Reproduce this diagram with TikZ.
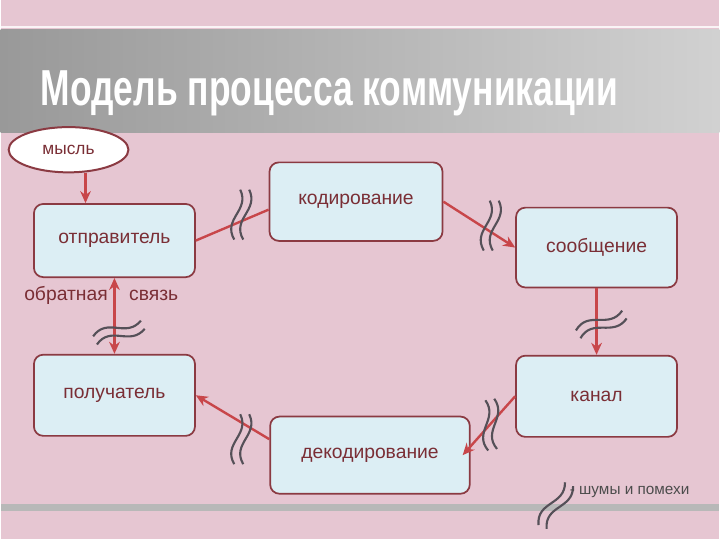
\documentclass[tikz,border=0pt]{standalone}
\usepackage{fontspec}
\setmainfont{Liberation Sans}
\usetikzlibrary{shapes.geometric,arrows.meta,calc}
\definecolor{bg}{HTML}{E6C6D2}
\definecolor{bfill}{HTML}{DCEEF4}
\definecolor{bdr}{HTML}{8B3A42}
\definecolor{txt}{HTML}{7A2E35}
\definecolor{arr}{HTML}{C8464A}
\definecolor{noise}{HTML}{555058}
\tikzset{
 box/.style={draw=bdr,line width=1.3pt,fill=bfill,rounded corners=7pt,text=txt,font=\fontsize{14.5}{17}\selectfont,inner sep=0pt},
 arrow/.style={draw=arr,line width=1.8pt,-{Stealth[length=9pt,width=8pt]}},
 lbl/.style={text=txt,font=\fontsize{14.5}{17}\selectfont},
 noisepic/.pic={\draw[noise,line width=1.6pt] (-4,25) .. controls (-16,4) and (12,-4) .. (2,-25);
   \draw[noise,line width=1.6pt] (5,25) .. controls (-7,4) and (21,-4) .. (11,-25);}
}
\begin{document}
\begin{tikzpicture}[x=0.75pt,y=-0.75pt]
\fill[bg] (0,0) rectangle (720,540);
\draw[white!80!bg,line width=1pt] (0,27) -- (720,27);
\shade[left color=black!40,right color=black!18] (0,30) rectangle (720,133);
\fill[black!28] (0,505) rectangle (720,512);
\node[anchor=base west,text=white,font=\bfseries\fontsize{38}{42}\selectfont,xscale=0.70,inner sep=0] (title) at (40,106) {Модель процесса коммуникации};
\node[ellipse,draw=bdr,line width=1.5pt,fill=white,text=txt,font=\fontsize{13}{15}\selectfont,minimum width=90pt,minimum height=34pt,inner sep=0] (thought) at (68,150) {мысль};
\node[box,minimum width=121pt,minimum height=55pt] (snd) at (114,241) {отправитель};
\node[box,minimum width=130pt,minimum height=59pt] (enc) at (356,202) {кодирование};
\node[box,minimum width=121pt,minimum height=60pt] (msg) at (597,248) {сообщение};
\node[box,minimum width=121pt,minimum height=61pt] (chn) at (597,397) {канал};
\node[box,minimum width=150pt,minimum height=58pt] (dec) at (370,456) {декодирование};
\node[box,minimum width=121pt,minimum height=61pt] (rcv) at (114,396) {получатель};
\node[lbl,anchor=base east] (fb1) at (112,301) {обратная};
\node[lbl,anchor=base west] (fb2) at (124,301) {связь};
\draw[arrow] (thought.south) ++(17,0) coordinate (t1) -- (snd.north -| t1);
\draw[arr,line width=1.8pt] (snd.east) -- ($(enc.west)+(0,8)$) coordinate (e1);
\draw[arrow] (enc.east) -- (msg.west);
\draw[arrow] (msg.south) -- (chn.north);
\draw[arrow] (chn.west) -- ($(dec.east)+(-8,0)$) coordinate (d1);
\draw[arrow] ($(dec.west)+(0,-16)$) coordinate (d2) -- (rcv.east);
\draw[arr,line width=1.8pt,{Stealth[length=9pt,width=8pt]}-{Stealth[length=9pt,width=8pt]}] (snd.south) -- (rcv.north);
\pic at (238,215) {noisepic};
\pic at (488,226) {noisepic};
\pic[rotate=-60] at (600,322) {noisepic};
\pic at (238,440) {noisepic};
\pic[rotate=10] at (488,426) {noisepic};
\pic[rotate=-65] at (117,330) {noisepic};
\pic[rotate=-25] at (553,505) {noisepic};
\node[anchor=base west,text=black!70,font=\fontsize{11.5}{13}\selectfont,inner sep=0] (leg) at (570,495) {- шумы и помехи};
\end{tikzpicture}
\end{document}
